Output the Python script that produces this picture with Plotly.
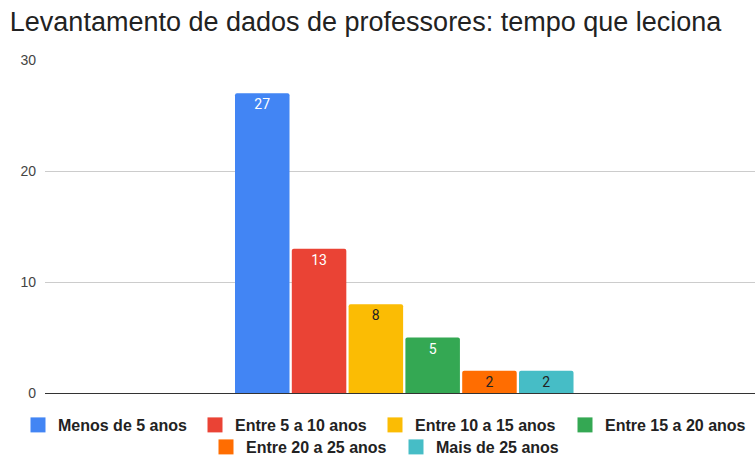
import plotly.graph_objects as go

# data
categorias = ["Menos de 5 anos", "Entre 5 a 10 anos", "Entre 10 a 15 anos",
              "Entre 15 a 20 anos", "Entre 20 a 25 anos", "Mais de 25 anos"]
valores = [27, 13, 8, 5, 2, 2]
cores = ["#4285f4", "#ea4335", "#fbbc04", "#34a853", "#ff6d01", "#46bdc6"]
cor_texto = ["#ffffff", "#ffffff", "#222222", "#ffffff", "#222222", "#222222"]
y_ticks = [0, 10, 20, 30]

# where each legend swatch sits (px centre x, px centre y) - two centred rows
legenda_pos = [(38, 425), (215, 425), (395, 425), (585, 425),
               (226, 447), (416, 447)]

W, H = 755, 457
SWATCH_OFF = 20  # legend left edge -> swatch centre

fig = go.Figure()
for i, (nome, v) in enumerate(zip(categorias, valores)):
    fig.add_trace(go.Bar(
        x=[""], y=[v], name=nome, showlegend=False,
        marker=dict(color=cores[i], line=dict(width=0)),
        text=[str(v)], textposition="inside", insidetextanchor="end",
        textfont=dict(color=cor_texto[i], size=14, family="Roboto"),
        hoverinfo="skip",
    ))

legendas = {}
for i, nome in enumerate(categorias):
    key = "legend" if i == 0 else "legend%d" % (i + 1)
    fig.add_trace(go.Scatter(
        x=[None], y=[None], mode="markers", name="<b>" + nome + "</b>",
        marker=dict(color=cores[i], symbol="square", size=15),
        legend=key,
    ))
    px, py_ = legenda_pos[i]
    legendas[key] = dict(
        orientation="h", xref="container", yref="container",
        x=(px - SWATCH_OFF) / W, xanchor="left",
        y=(H - py_) / H, yanchor="middle",
        font=dict(size=16, color="#222222", family="Arial"),
        itemclick=False, bgcolor="rgba(0,0,0,0)")

fig.update_layout(
    width=W, height=H,
    margin=dict(l=45, r=0, t=60, b=64, autoexpand=False),
    paper_bgcolor="white", plot_bgcolor="white",
    barmode="group", bargap=0.52, bargroupgap=0.04, barcornerradius=2,
    title=dict(text="Levantamento de dados de professores: tempo que leciona",
               x=0.013, xanchor="left", y=0.952, yanchor="middle",
               font=dict(family="Arial", size=27, color="#222222")),
    font=dict(family="Arial", color="#444444"),
    xaxis=dict(showticklabels=False, showgrid=False, zeroline=False,
               range=[-0.506, 0.494], automargin=False),
    yaxis=dict(range=[0, 30], tickvals=y_ticks, showgrid=True,
               gridcolor="#cccccc", gridwidth=1, zeroline=True,
               zerolinecolor="#333333", zerolinewidth=1,
               tickfont=dict(size=14, color="#444444", family="Arial"),
               ticks="", ticklabelstandoff=8, automargin=False),
    showlegend=True,
    **legendas,
)

fig.write_html("out.html", config={"displayModeBar": False},
               post_script="document.body.style.margin='0';")
